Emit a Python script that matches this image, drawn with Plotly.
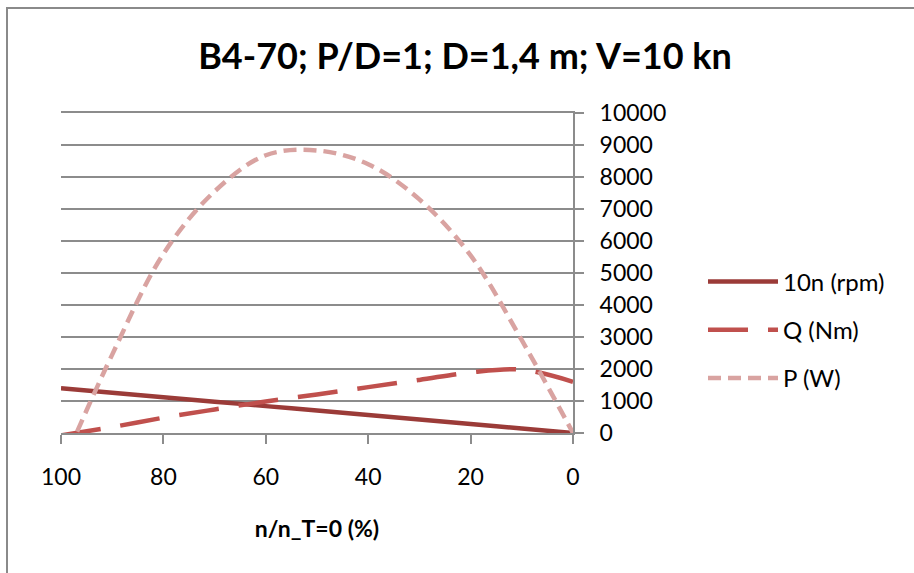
import plotly.graph_objects as go

# Data
x_pct = [100, 90, 80, 70, 60, 50, 40, 30, 20, 10, 0]
rpm10 = [1400, 1260, 1120, 980, 840, 700, 560, 420, 280, 140, 0]
torque_q = [-75, 186, 477, 736, 986, 1205, 1433, 1659, 1894, 1978, 1600]
power_p = [-1100, 2450, 5600, 7550, 8680, 8830, 8400, 7300, 5550, 2900, 0]

title_text = "B4-70; P/D=1; D=1,4 m; V=10 kn"
x_title = "n/n_T=0 (%)"
names = ["10n (rpm)", "Q (Nm)", "P (W)"]
colors = ["#9B3B38", "#C0504D", "#D9A3A1"]

FONT = "Lato"
GRID = "#8C8C8C"

fig = go.Figure()
fig.add_trace(go.Scatter(x=x_pct, y=rpm10, mode="lines", name=names[0],
                         line=dict(color=colors[0], width=4.5, shape="spline"),
                         legendgroup="a"))
fig.add_trace(go.Scatter(x=x_pct, y=torque_q, mode="lines", name=names[1],
                         line=dict(color=colors[1], width=4.5, shape="spline", dash="40px,20px"),
                         legendgroup="b"))
fig.add_trace(go.Scatter(x=x_pct, y=power_p, mode="lines", name=names[2],
                         line=dict(color=colors[2], width=4.5, shape="spline", dash="13px,7px"),
                         legendgroup="c"))

L, R, T, B = 61, 914 - 573, 113, 573 - 433
W = 914 - L - R
H = 573 - T - B

def px_x(p):
    return (p - L) / W

def px_y(p):
    return (573 - B - p) / H

fig.update_layout(
    width=914, height=573,
    margin=dict(l=L, r=R, t=T, b=B),
    paper_bgcolor="white", plot_bgcolor="white",
    font=dict(family=FONT, size=23, color="black"),
    title=dict(text="<b>" + title_text + "</b>", xref="container", yref="container",
               x=465 / 914, y=1 - 56 / 573, xanchor="center", yanchor="middle",
               font=dict(family=FONT, size=36, color="black")),
    showlegend=True,
    legend=dict(x=px_x(703), xanchor="left", y=px_y(330), yanchor="middle",
                font=dict(family=FONT, size=24), itemwidth=70,
                traceorder="grouped", tracegroupgap=14, bgcolor="rgba(0,0,0,0)"),
    xaxis=dict(range=[100, 0], dtick=20, tick0=0, showgrid=False, zeroline=False,
               showline=True, linecolor=GRID, linewidth=2, mirror=True,
               ticks="outside", ticklen=9, tickwidth=2, tickcolor=GRID,
               ticklabelstandoff=13,
               title=dict(text="<b>" + x_title + "</b>", standoff=32,
                          font=dict(family=FONT, size=23))),
    yaxis=dict(range=[0, 10000], dtick=1000, tick0=0, side="right", tickformat="d",
               showgrid=True, gridcolor=GRID, gridwidth=2, zeroline=False,
               showline=True, linecolor=GRID, linewidth=2,
               ticks="outside", ticklen=9, tickwidth=2, tickcolor=GRID,
               ticklabelstandoff=11),
    shapes=[dict(type="rect", xref="paper", yref="paper",
                 x0=px_x(7), x1=px_x(925), y0=px_y(585), y1=px_y(8),
                 line=dict(color="#8A8A8A", width=2), fillcolor="rgba(0,0,0,0)",
                 layer="below")],
)

fig.write_html("out.html")
